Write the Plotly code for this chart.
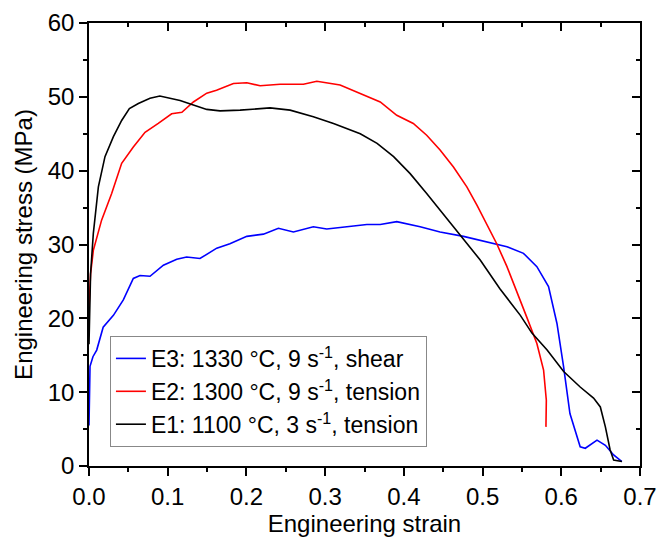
import plotly.graph_objects as go

# E1: 1100 °C, 3 s-1, tension (black)
e1_strain = [0.0, 0.002, 0.0055, 0.0119, 0.0203, 0.031, 0.0415, 0.0513, 0.0627, 0.0775, 0.090, 0.103,
             0.1157, 0.1326, 0.1496, 0.1665, 0.192, 0.230, 0.2555, 0.285, 0.3106, 0.3446, 0.366, 0.387,
             0.408, 0.429, 0.446, 0.463, 0.497, 0.522, 0.548, 0.5627, 0.582, 0.603, 0.624, 0.641,
             0.6496, 0.656, 0.662, 0.6665, 0.677]
e1_stress = [16.5, 26.0, 31.5, 37.8, 41.9, 44.6, 46.8, 48.4, 49.1, 49.8, 50.1, 49.8,
             49.5, 48.9, 48.3, 48.1, 48.2, 48.5, 48.2, 47.3, 46.4, 45.0, 43.7, 41.9,
             39.6, 36.9, 34.6, 32.4, 27.9, 24.0, 20.4, 18.0, 15.7, 12.8, 10.7, 9.2,
             8.0, 5.3, 2.2, 0.8, 0.6]

# E2: 1300 °C, 9 s-1, tension (red)
e2_strain = [0.0, 0.002, 0.0055, 0.016, 0.0288, 0.0415, 0.0563, 0.0712, 0.088, 0.105, 0.118, 0.1326,
             0.1496, 0.162, 0.1835, 0.2005, 0.2174, 0.2428, 0.2724, 0.2894, 0.319, 0.3446, 0.370,
             0.391, 0.412, 0.429, 0.446, 0.463, 0.480, 0.493, 0.5055, 0.518, 0.531, 0.5437, 0.556,
             0.569, 0.5775, 0.581, 0.5805]
e2_stress = [21.5, 26.0, 29.2, 33.3, 36.9, 41.0, 43.2, 45.2, 46.4, 47.7, 47.9, 49.3,
             50.5, 50.9, 51.8, 51.9, 51.5, 51.7, 51.7, 52.1, 51.6, 50.4, 49.3,
             47.5, 46.4, 44.8, 42.8, 40.5, 37.8, 35.3, 32.8, 30.1, 27.0, 23.4, 20.2,
             16.6, 13.0, 8.9, 5.3]

# E3: 1330 °C, 9 s-1, shear (blue)
e3_strain = [0.0, 0.0013, 0.005, 0.0098, 0.018, 0.031, 0.0436, 0.0563, 0.0648, 0.0775, 0.0945, 0.1115,
             0.124, 0.141, 0.1623, 0.179, 0.2005, 0.2216, 0.2406, 0.2597, 0.285, 0.302, 0.3276,
             0.353, 0.370, 0.391, 0.4207, 0.446, 0.4758, 0.5055, 0.531, 0.552, 0.569, 0.5838,
             0.5945, 0.603, 0.611, 0.624, 0.6305, 0.6454, 0.656, 0.6665, 0.677]
e3_stress = [5.5, 13.5, 14.8, 15.7, 18.8, 20.4, 22.5, 25.4, 25.8, 25.7, 27.2, 28.0,
             28.3, 28.1, 29.5, 30.1, 31.1, 31.4, 32.2, 31.7, 32.4, 32.1, 32.4,
             32.7, 32.7, 33.1, 32.4, 31.7, 31.1, 30.4, 29.7, 28.8, 27.0, 24.3,
             19.3, 13.4, 7.1, 2.6, 2.4, 3.5, 2.8, 1.5, 0.6]

names = ["E3: 1330 °C, 9 s<sup>-1</sup>, shear",
         "E2: 1300 °C, 9 s<sup>-1</sup>, tension",
         "E1: 1100 °C, 3 s<sup>-1</sup>, tension"]
colors = ["#0000FF", "#FF0000", "#000000"]

x_ticks = [0.0, 0.1, 0.2, 0.3, 0.4, 0.5, 0.6, 0.7]
x_ticklabels = ["0.0", "0.1", "0.2", "0.3", "0.4", "0.5", "0.6", "0.7"]
y_ticks = [0, 10, 20, 30, 40, 50, 60]

FONT = "Arial, Liberation Sans, sans-serif"

fig = go.Figure()
series = [(e3_strain, e3_stress), (e2_strain, e2_stress), (e1_strain, e1_stress)]
for i, ((xs, ys), nm, c) in enumerate(zip(series, names, colors)):
    fig.add_trace(go.Scatter(x=xs, y=ys, mode="lines", name=nm,
                             line=dict(color=c, width=1.6),
                             legendgroup="g%d" % i))

# dummy trace for the mirrored (top/right) axes
fig.add_trace(go.Scatter(x=[None], y=[None], xaxis="x2", yaxis="y2",
                         showlegend=False, hoverinfo="skip"))

axis_common = dict(showline=True, linecolor="black", linewidth=1.5, automargin=False,
                   showgrid=False, zeroline=False, tickcolor="black", tickwidth=1.5)

fig.update_layout(
    width=662, height=539,
    margin=dict(l=81, r=30, t=15, b=81, autoexpand=False),
    paper_bgcolor="white", plot_bgcolor="white",
    font=dict(family=FONT, size=24, color="black"),
    xaxis=dict(range=[0, 0.7], tickvals=x_ticks, ticktext=x_ticklabels,
               ticks="outside", ticklen=8,
               minor=dict(dtick=0.05, ticks="outside", ticklen=4, tickcolor="black", tickwidth=1.5),
               title=dict(text="Engineering strain", font=dict(size=24), standoff=4),
               tickfont=dict(size=24), **axis_common),
    yaxis=dict(range=[0, 60], tickvals=y_ticks,
               ticks="outside", ticklen=8,
               minor=dict(dtick=5, ticks="outside", ticklen=4, tickcolor="black", tickwidth=1.5),
               title=dict(text="Engineering stress (MPa)", font=dict(size=24), standoff=8),
               tickfont=dict(size=24), **axis_common),
    xaxis2=dict(range=[0, 0.7], overlaying="x", anchor="y", side="top",
                tickvals=x_ticks, showticklabels=False, ticks="inside", ticklen=8,
                minor=dict(dtick=0.05, ticks="inside", ticklen=4, tickcolor="black", tickwidth=1.5),
                **axis_common),
    yaxis2=dict(range=[0, 60], overlaying="y", anchor="x", side="right",
                tickvals=y_ticks, showticklabels=False, ticks="inside", ticklen=8,
                minor=dict(dtick=5, ticks="inside", ticklen=4, tickcolor="black", tickwidth=1.5),
                **axis_common),
    legend=dict(x=0.038, y=0.043, xanchor="left", yanchor="bottom",
                bgcolor="white", bordercolor="#888888", borderwidth=1,
                font=dict(family=FONT, size=23, color="black"),
                traceorder="grouped", tracegroupgap=0),
    showlegend=True,
)

fig.write_html("out.html")
